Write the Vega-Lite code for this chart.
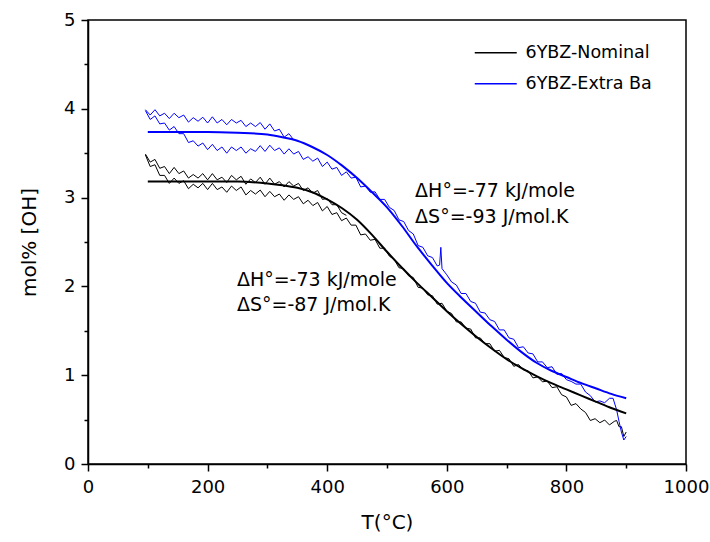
{
 "$schema": "https://vega.github.io/schema/vega-lite/v6.json",
 "width": 598, "height": 444,
 "autosize": {"type": "none"},
 "padding": {"left": 88, "top": 20, "right": 24, "bottom": 78},
 "background": "white",
 "config": {
  "font": "DejaVu Sans",
  "view": {"stroke": "black", "strokeWidth": 1.5},
  "axis": {"domainColor": "black", "domainWidth": 1.5, "tickColor": "black", "tickWidth": 1.5, "labelColor": "black", "titleColor": "black", "labelFont": "DejaVu Sans", "titleFont": "DejaVu Sans", "labelFontSize": 18, "titleFontSize": 20, "titleFontWeight": "normal", "grid": false}
 },
 "datasets": {
  "fit": [
   {"sample":"6YBZ-Nominal","T":100,"OH":3.18},{"sample":"6YBZ-Nominal","T":150,"OH":3.18},{"sample":"6YBZ-Nominal","T":200,"OH":3.18},{"sample":"6YBZ-Nominal","T":250,"OH":3.18},{"sample":"6YBZ-Nominal","T":300,"OH":3.16},{"sample":"6YBZ-Nominal","T":325,"OH":3.14},{"sample":"6YBZ-Nominal","T":350,"OH":3.11},{"sample":"6YBZ-Nominal","T":375,"OH":3.06},{"sample":"6YBZ-Nominal","T":400,"OH":2.98},{"sample":"6YBZ-Nominal","T":425,"OH":2.88},{"sample":"6YBZ-Nominal","T":450,"OH":2.75},{"sample":"6YBZ-Nominal","T":475,"OH":2.58},{"sample":"6YBZ-Nominal","T":500,"OH":2.39},{"sample":"6YBZ-Nominal","T":525,"OH":2.21},{"sample":"6YBZ-Nominal","T":550,"OH":2.04},{"sample":"6YBZ-Nominal","T":575,"OH":1.88},{"sample":"6YBZ-Nominal","T":600,"OH":1.72},{"sample":"6YBZ-Nominal","T":625,"OH":1.57},{"sample":"6YBZ-Nominal","T":650,"OH":1.43},{"sample":"6YBZ-Nominal","T":675,"OH":1.30},{"sample":"6YBZ-Nominal","T":700,"OH":1.18},{"sample":"6YBZ-Nominal","T":725,"OH":1.08},{"sample":"6YBZ-Nominal","T":750,"OH":0.99},{"sample":"6YBZ-Nominal","T":775,"OH":0.91},{"sample":"6YBZ-Nominal","T":800,"OH":0.84},{"sample":"6YBZ-Nominal","T":825,"OH":0.77},{"sample":"6YBZ-Nominal","T":850,"OH":0.70},{"sample":"6YBZ-Nominal","T":875,"OH":0.63},{"sample":"6YBZ-Nominal","T":900,"OH":0.57},
   {"sample":"6YBZ-Extra Ba","T":100,"OH":3.74},{"sample":"6YBZ-Extra Ba","T":150,"OH":3.74},{"sample":"6YBZ-Extra Ba","T":200,"OH":3.74},{"sample":"6YBZ-Extra Ba","T":250,"OH":3.73},{"sample":"6YBZ-Extra Ba","T":300,"OH":3.71},{"sample":"6YBZ-Extra Ba","T":325,"OH":3.68},{"sample":"6YBZ-Extra Ba","T":350,"OH":3.64},{"sample":"6YBZ-Extra Ba","T":375,"OH":3.57},{"sample":"6YBZ-Extra Ba","T":400,"OH":3.48},{"sample":"6YBZ-Extra Ba","T":425,"OH":3.36},{"sample":"6YBZ-Extra Ba","T":450,"OH":3.22},{"sample":"6YBZ-Extra Ba","T":475,"OH":3.06},{"sample":"6YBZ-Extra Ba","T":500,"OH":2.89},{"sample":"6YBZ-Extra Ba","T":525,"OH":2.68},{"sample":"6YBZ-Extra Ba","T":550,"OH":2.45},{"sample":"6YBZ-Extra Ba","T":575,"OH":2.24},{"sample":"6YBZ-Extra Ba","T":600,"OH":2.04},{"sample":"6YBZ-Extra Ba","T":625,"OH":1.87},{"sample":"6YBZ-Extra Ba","T":650,"OH":1.71},{"sample":"6YBZ-Extra Ba","T":675,"OH":1.55},{"sample":"6YBZ-Extra Ba","T":700,"OH":1.40},{"sample":"6YBZ-Extra Ba","T":725,"OH":1.26},{"sample":"6YBZ-Extra Ba","T":750,"OH":1.14},{"sample":"6YBZ-Extra Ba","T":775,"OH":1.05},{"sample":"6YBZ-Extra Ba","T":800,"OH":0.98},{"sample":"6YBZ-Extra Ba","T":825,"OH":0.91},{"sample":"6YBZ-Extra Ba","T":850,"OH":0.85},{"sample":"6YBZ-Extra Ba","T":875,"OH":0.79},{"sample":"6YBZ-Extra Ba","T":900,"OH":0.74}
  ],
  "meas": [
   {"sample":"6YBZ-Nominal","seg":"N1","T":96,"OH":3.48},{"sample":"6YBZ-Nominal","seg":"N1","T":104,"OH":3.35},{"sample":"6YBZ-Nominal","seg":"N1","T":112,"OH":3.37},{"sample":"6YBZ-Nominal","seg":"N1","T":120,"OH":3.25},{"sample":"6YBZ-Nominal","seg":"N1","T":128,"OH":3.25},{"sample":"6YBZ-Nominal","seg":"N1","T":136,"OH":3.16},{"sample":"6YBZ-Nominal","seg":"N1","T":144,"OH":3.22},{"sample":"6YBZ-Nominal","seg":"N1","T":152,"OH":3.16},{"sample":"6YBZ-Nominal","seg":"N1","T":160,"OH":3.19},{"sample":"6YBZ-Nominal","seg":"N1","T":168,"OH":3.10},{"sample":"6YBZ-Nominal","seg":"N1","T":176,"OH":3.15},{"sample":"6YBZ-Nominal","seg":"N1","T":184,"OH":3.11},{"sample":"6YBZ-Nominal","seg":"N1","T":192,"OH":3.16},{"sample":"6YBZ-Nominal","seg":"N1","T":200,"OH":3.09},{"sample":"6YBZ-Nominal","seg":"N1","T":208,"OH":3.16},{"sample":"6YBZ-Nominal","seg":"N1","T":216,"OH":3.09},{"sample":"6YBZ-Nominal","seg":"N1","T":224,"OH":3.12},{"sample":"6YBZ-Nominal","seg":"N1","T":232,"OH":3.06},{"sample":"6YBZ-Nominal","seg":"N1","T":240,"OH":3.13},{"sample":"6YBZ-Nominal","seg":"N1","T":248,"OH":3.08},{"sample":"6YBZ-Nominal","seg":"N1","T":256,"OH":3.12},{"sample":"6YBZ-Nominal","seg":"N1","T":264,"OH":3.03},{"sample":"6YBZ-Nominal","seg":"N1","T":272,"OH":3.08},{"sample":"6YBZ-Nominal","seg":"N1","T":280,"OH":3.04},{"sample":"6YBZ-Nominal","seg":"N1","T":288,"OH":3.085},{"sample":"6YBZ-Nominal","seg":"N1","T":296,"OH":3.01},{"sample":"6YBZ-Nominal","seg":"N1","T":304,"OH":3.07},{"sample":"6YBZ-Nominal","seg":"N1","T":312,"OH":3.01},{"sample":"6YBZ-Nominal","seg":"N1","T":320,"OH":3.04},{"sample":"6YBZ-Nominal","seg":"N1","T":328,"OH":2.97},{"sample":"6YBZ-Nominal","seg":"N1","T":336,"OH":3.03},{"sample":"6YBZ-Nominal","seg":"N1","T":344,"OH":2.98},{"sample":"6YBZ-Nominal","seg":"N1","T":352,"OH":3.01},{"sample":"6YBZ-Nominal","seg":"N1","T":360,"OH":2.93},{"sample":"6YBZ-Nominal","seg":"N1","T":368,"OH":2.97},{"sample":"6YBZ-Nominal","seg":"N1","T":376,"OH":2.91},{"sample":"6YBZ-Nominal","seg":"N1","T":384,"OH":2.945},{"sample":"6YBZ-Nominal","seg":"N1","T":392,"OH":2.85},{"sample":"6YBZ-Nominal","seg":"N1","T":400,"OH":2.90},{"sample":"6YBZ-Nominal","seg":"N1","T":408,"OH":2.81},{"sample":"6YBZ-Nominal","seg":"N1","T":416,"OH":2.83},{"sample":"6YBZ-Nominal","seg":"N1","T":424,"OH":2.74},{"sample":"6YBZ-Nominal","seg":"N1","T":432,"OH":2.77},{"sample":"6YBZ-Nominal","seg":"N1","T":440,"OH":2.69},{"sample":"6YBZ-Nominal","seg":"N1","T":448,"OH":2.69},{"sample":"6YBZ-Nominal","seg":"N1","T":456,"OH":2.58},{"sample":"6YBZ-Nominal","seg":"N1","T":464,"OH":2.59},{"sample":"6YBZ-Nominal","seg":"N1","T":472,"OH":2.52},{"sample":"6YBZ-Nominal","seg":"N1","T":480,"OH":2.53},{"sample":"6YBZ-Nominal","seg":"N1","T":488,"OH":2.43},{"sample":"6YBZ-Nominal","seg":"N1","T":496,"OH":2.43},{"sample":"6YBZ-Nominal","seg":"N1","T":504,"OH":2.34},{"sample":"6YBZ-Nominal","seg":"N1","T":512,"OH":2.305},{"sample":"6YBZ-Nominal","seg":"N1","T":520,"OH":2.21},{"sample":"6YBZ-Nominal","seg":"N1","T":528,"OH":2.20},{"sample":"6YBZ-Nominal","seg":"N1","T":536,"OH":2.12},{"sample":"6YBZ-Nominal","seg":"N1","T":544,"OH":2.10},{"sample":"6YBZ-Nominal","seg":"N1","T":552,"OH":1.99},{"sample":"6YBZ-Nominal","seg":"N1","T":560,"OH":1.98},{"sample":"6YBZ-Nominal","seg":"N1","T":568,"OH":1.905},{"sample":"6YBZ-Nominal","seg":"N1","T":576,"OH":1.895},{"sample":"6YBZ-Nominal","seg":"N1","T":584,"OH":1.80},{"sample":"6YBZ-Nominal","seg":"N1","T":592,"OH":1.81},{"sample":"6YBZ-Nominal","seg":"N1","T":600,"OH":1.72},{"sample":"6YBZ-Nominal","seg":"N1","T":608,"OH":1.695},{"sample":"6YBZ-Nominal","seg":"N1","T":616,"OH":1.60},{"sample":"6YBZ-Nominal","seg":"N1","T":624,"OH":1.60},{"sample":"6YBZ-Nominal","seg":"N1","T":632,"OH":1.53},{"sample":"6YBZ-Nominal","seg":"N1","T":640,"OH":1.52},{"sample":"6YBZ-Nominal","seg":"N1","T":648,"OH":1.42},{"sample":"6YBZ-Nominal","seg":"N1","T":656,"OH":1.42},{"sample":"6YBZ-Nominal","seg":"N1","T":664,"OH":1.355},{"sample":"6YBZ-Nominal","seg":"N1","T":672,"OH":1.355},{"sample":"6YBZ-Nominal","seg":"N1","T":680,"OH":1.27},{"sample":"6YBZ-Nominal","seg":"N1","T":688,"OH":1.28},{"sample":"6YBZ-Nominal","seg":"N1","T":696,"OH":1.20},{"sample":"6YBZ-Nominal","seg":"N1","T":704,"OH":1.185},{"sample":"6YBZ-Nominal","seg":"N1","T":712,"OH":1.10},{"sample":"6YBZ-Nominal","seg":"N1","T":720,"OH":1.12},{"sample":"6YBZ-Nominal","seg":"N1","T":728,"OH":1.06},{"sample":"6YBZ-Nominal","seg":"N1","T":736,"OH":1.05},{"sample":"6YBZ-Nominal","seg":"N1","T":744,"OH":0.97},{"sample":"6YBZ-Nominal","seg":"N1","T":752,"OH":0.98},{"sample":"6YBZ-Nominal","seg":"N1","T":760,"OH":0.925},{"sample":"6YBZ-Nominal","seg":"N1","T":768,"OH":0.935},{"sample":"6YBZ-Nominal","seg":"N1","T":776,"OH":0.86},{"sample":"6YBZ-Nominal","seg":"N1","T":784,"OH":0.87},{"sample":"6YBZ-Nominal","seg":"N1","T":792,"OH":0.78},{"sample":"6YBZ-Nominal","seg":"N1","T":800,"OH":0.755},{"sample":"6YBZ-Nominal","seg":"N1","T":808,"OH":0.66},{"sample":"6YBZ-Nominal","seg":"N1","T":816,"OH":0.68},{"sample":"6YBZ-Nominal","seg":"N1","T":824,"OH":0.62},{"sample":"6YBZ-Nominal","seg":"N1","T":832,"OH":0.58},{"sample":"6YBZ-Nominal","seg":"N1","T":840,"OH":0.49},{"sample":"6YBZ-Nominal","seg":"N1","T":848,"OH":0.51},{"sample":"6YBZ-Nominal","seg":"N1","T":856,"OH":0.465},{"sample":"6YBZ-Nominal","seg":"N1","T":864,"OH":0.495},{"sample":"6YBZ-Nominal","seg":"N1","T":872,"OH":0.44},{"sample":"6YBZ-Nominal","seg":"N1","T":880,"OH":0.48},{"sample":"6YBZ-Nominal","seg":"N1","T":884,"OH":0.49},{"sample":"6YBZ-Nominal","seg":"N1","T":888,"OH":0.42},{"sample":"6YBZ-Nominal","seg":"N1","T":892,"OH":0.42},{"sample":"6YBZ-Nominal","seg":"N1","T":896,"OH":0.31},{"sample":"6YBZ-Nominal","seg":"N1","T":900,"OH":0.36},
   {"sample":"6YBZ-Nominal","seg":"N2","T":96,"OH":3.49},{"sample":"6YBZ-Nominal","seg":"N2","T":104,"OH":3.40},{"sample":"6YBZ-Nominal","seg":"N2","T":112,"OH":3.43},{"sample":"6YBZ-Nominal","seg":"N2","T":120,"OH":3.33},{"sample":"6YBZ-Nominal","seg":"N2","T":128,"OH":3.35},{"sample":"6YBZ-Nominal","seg":"N2","T":136,"OH":3.27},{"sample":"6YBZ-Nominal","seg":"N2","T":144,"OH":3.34},{"sample":"6YBZ-Nominal","seg":"N2","T":152,"OH":3.27},{"sample":"6YBZ-Nominal","seg":"N2","T":160,"OH":3.30},{"sample":"6YBZ-Nominal","seg":"N2","T":168,"OH":3.22},{"sample":"6YBZ-Nominal","seg":"N2","T":176,"OH":3.26},{"sample":"6YBZ-Nominal","seg":"N2","T":184,"OH":3.22},{"sample":"6YBZ-Nominal","seg":"N2","T":192,"OH":3.27},{"sample":"6YBZ-Nominal","seg":"N2","T":200,"OH":3.20},{"sample":"6YBZ-Nominal","seg":"N2","T":208,"OH":3.27},{"sample":"6YBZ-Nominal","seg":"N2","T":216,"OH":3.20},{"sample":"6YBZ-Nominal","seg":"N2","T":224,"OH":3.23},{"sample":"6YBZ-Nominal","seg":"N2","T":232,"OH":3.17},{"sample":"6YBZ-Nominal","seg":"N2","T":240,"OH":3.25},{"sample":"6YBZ-Nominal","seg":"N2","T":248,"OH":3.20},{"sample":"6YBZ-Nominal","seg":"N2","T":256,"OH":3.24},{"sample":"6YBZ-Nominal","seg":"N2","T":264,"OH":3.15},{"sample":"6YBZ-Nominal","seg":"N2","T":272,"OH":3.21},{"sample":"6YBZ-Nominal","seg":"N2","T":280,"OH":3.17},{"sample":"6YBZ-Nominal","seg":"N2","T":288,"OH":3.23},{"sample":"6YBZ-Nominal","seg":"N2","T":296,"OH":3.15},{"sample":"6YBZ-Nominal","seg":"N2","T":304,"OH":3.22},{"sample":"6YBZ-Nominal","seg":"N2","T":312,"OH":3.15},{"sample":"6YBZ-Nominal","seg":"N2","T":320,"OH":3.18},{"sample":"6YBZ-Nominal","seg":"N2","T":328,"OH":3.12},{"sample":"6YBZ-Nominal","seg":"N2","T":336,"OH":3.18},{"sample":"6YBZ-Nominal","seg":"N2","T":344,"OH":3.13},{"sample":"6YBZ-Nominal","seg":"N2","T":352,"OH":3.16},{"sample":"6YBZ-Nominal","seg":"N2","T":360,"OH":3.08},{"sample":"6YBZ-Nominal","seg":"N2","T":368,"OH":3.11},{"sample":"6YBZ-Nominal","seg":"N2","T":376,"OH":3.05},{"sample":"6YBZ-Nominal","seg":"N2","T":384,"OH":3.08},{"sample":"6YBZ-Nominal","seg":"N2","T":392,"OH":2.98},{"sample":"6YBZ-Nominal","seg":"N2","T":400,"OH":2.99},{"sample":"6YBZ-Nominal","seg":"N2","T":408,"OH":2.92},{"sample":"6YBZ-Nominal","seg":"N2","T":416,"OH":2.92},{"sample":"6YBZ-Nominal","seg":"N2","T":424,"OH":2.83},{"sample":"6YBZ-Nominal","seg":"N2","T":432,"OH":2.80},
   {"sample":"6YBZ-Extra Ba","seg":"B1","T":96,"OH":3.98},{"sample":"6YBZ-Extra Ba","seg":"B1","T":104,"OH":3.88},{"sample":"6YBZ-Extra Ba","seg":"B1","T":112,"OH":3.92},{"sample":"6YBZ-Extra Ba","seg":"B1","T":120,"OH":3.83},{"sample":"6YBZ-Extra Ba","seg":"B1","T":128,"OH":3.84},{"sample":"6YBZ-Extra Ba","seg":"B1","T":136,"OH":3.76},{"sample":"6YBZ-Extra Ba","seg":"B1","T":144,"OH":3.80},{"sample":"6YBZ-Extra Ba","seg":"B1","T":152,"OH":3.72},{"sample":"6YBZ-Extra Ba","seg":"B1","T":160,"OH":3.72},{"sample":"6YBZ-Extra Ba","seg":"B1","T":168,"OH":3.62},{"sample":"6YBZ-Extra Ba","seg":"B1","T":176,"OH":3.64},{"sample":"6YBZ-Extra Ba","seg":"B1","T":184,"OH":3.58},{"sample":"6YBZ-Extra Ba","seg":"B1","T":192,"OH":3.615},{"sample":"6YBZ-Extra Ba","seg":"B1","T":200,"OH":3.54},{"sample":"6YBZ-Extra Ba","seg":"B1","T":208,"OH":3.60},{"sample":"6YBZ-Extra Ba","seg":"B1","T":216,"OH":3.53},{"sample":"6YBZ-Extra Ba","seg":"B1","T":224,"OH":3.57},{"sample":"6YBZ-Extra Ba","seg":"B1","T":232,"OH":3.50},{"sample":"6YBZ-Extra Ba","seg":"B1","T":240,"OH":3.57},{"sample":"6YBZ-Extra Ba","seg":"B1","T":248,"OH":3.53},{"sample":"6YBZ-Extra Ba","seg":"B1","T":256,"OH":3.57},{"sample":"6YBZ-Extra Ba","seg":"B1","T":264,"OH":3.50},{"sample":"6YBZ-Extra Ba","seg":"B1","T":272,"OH":3.55},{"sample":"6YBZ-Extra Ba","seg":"B1","T":280,"OH":3.52},{"sample":"6YBZ-Extra Ba","seg":"B1","T":288,"OH":3.585},{"sample":"6YBZ-Extra Ba","seg":"B1","T":296,"OH":3.52},{"sample":"6YBZ-Extra Ba","seg":"B1","T":304,"OH":3.59},{"sample":"6YBZ-Extra Ba","seg":"B1","T":312,"OH":3.53},{"sample":"6YBZ-Extra Ba","seg":"B1","T":320,"OH":3.56},{"sample":"6YBZ-Extra Ba","seg":"B1","T":328,"OH":3.49},{"sample":"6YBZ-Extra Ba","seg":"B1","T":336,"OH":3.55},{"sample":"6YBZ-Extra Ba","seg":"B1","T":344,"OH":3.49},{"sample":"6YBZ-Extra Ba","seg":"B1","T":352,"OH":3.52},{"sample":"6YBZ-Extra Ba","seg":"B1","T":360,"OH":3.43},{"sample":"6YBZ-Extra Ba","seg":"B1","T":368,"OH":3.46},{"sample":"6YBZ-Extra Ba","seg":"B1","T":376,"OH":3.41},{"sample":"6YBZ-Extra Ba","seg":"B1","T":384,"OH":3.445},{"sample":"6YBZ-Extra Ba","seg":"B1","T":392,"OH":3.35},{"sample":"6YBZ-Extra Ba","seg":"B1","T":400,"OH":3.40},{"sample":"6YBZ-Extra Ba","seg":"B1","T":408,"OH":3.32},{"sample":"6YBZ-Extra Ba","seg":"B1","T":416,"OH":3.34},{"sample":"6YBZ-Extra Ba","seg":"B1","T":424,"OH":3.25},{"sample":"6YBZ-Extra Ba","seg":"B1","T":432,"OH":3.29},{"sample":"6YBZ-Extra Ba","seg":"B1","T":440,"OH":3.22},{"sample":"6YBZ-Extra Ba","seg":"B1","T":448,"OH":3.23},{"sample":"6YBZ-Extra Ba","seg":"B1","T":456,"OH":3.12},{"sample":"6YBZ-Extra Ba","seg":"B1","T":464,"OH":3.13},{"sample":"6YBZ-Extra Ba","seg":"B1","T":472,"OH":3.06},{"sample":"6YBZ-Extra Ba","seg":"B1","T":480,"OH":3.065},{"sample":"6YBZ-Extra Ba","seg":"B1","T":488,"OH":2.98},{"sample":"6YBZ-Extra Ba","seg":"B1","T":496,"OH":2.98},{"sample":"6YBZ-Extra Ba","seg":"B1","T":504,"OH":2.89},{"sample":"6YBZ-Extra Ba","seg":"B1","T":512,"OH":2.855},{"sample":"6YBZ-Extra Ba","seg":"B1","T":520,"OH":2.75},{"sample":"6YBZ-Extra Ba","seg":"B1","T":528,"OH":2.73},{"sample":"6YBZ-Extra Ba","seg":"B1","T":536,"OH":2.63},{"sample":"6YBZ-Extra Ba","seg":"B1","T":544,"OH":2.59},{"sample":"6YBZ-Extra Ba","seg":"B1","T":552,"OH":2.46},{"sample":"6YBZ-Extra Ba","seg":"B1","T":560,"OH":2.44},{"sample":"6YBZ-Extra Ba","seg":"B1","T":568,"OH":2.345},{"sample":"6YBZ-Extra Ba","seg":"B1","T":576,"OH":2.325},{"sample":"6YBZ-Extra Ba","seg":"B1","T":584,"OH":2.23},{"sample":"6YBZ-Extra Ba","seg":"B1","T":588,"OH":2.24},{"sample":"6YBZ-Extra Ba","seg":"B1","T":590,"OH":2.44},{"sample":"6YBZ-Extra Ba","seg":"B1","T":592,"OH":2.20},{"sample":"6YBZ-Extra Ba","seg":"B1","T":600,"OH":2.13},{"sample":"6YBZ-Extra Ba","seg":"B1","T":608,"OH":2.05},{"sample":"6YBZ-Extra Ba","seg":"B1","T":616,"OH":2.015},{"sample":"6YBZ-Extra Ba","seg":"B1","T":624,"OH":1.92},{"sample":"6YBZ-Extra Ba","seg":"B1","T":632,"OH":1.92},{"sample":"6YBZ-Extra Ba","seg":"B1","T":640,"OH":1.83},{"sample":"6YBZ-Extra Ba","seg":"B1","T":648,"OH":1.81},{"sample":"6YBZ-Extra Ba","seg":"B1","T":656,"OH":1.71},{"sample":"6YBZ-Extra Ba","seg":"B1","T":664,"OH":1.70},{"sample":"6YBZ-Extra Ba","seg":"B1","T":672,"OH":1.625},{"sample":"6YBZ-Extra Ba","seg":"B1","T":680,"OH":1.605},{"sample":"6YBZ-Extra Ba","seg":"B1","T":688,"OH":1.51},{"sample":"6YBZ-Extra Ba","seg":"B1","T":696,"OH":1.51},{"sample":"6YBZ-Extra Ba","seg":"B1","T":704,"OH":1.42},{"sample":"6YBZ-Extra Ba","seg":"B1","T":712,"OH":1.405},{"sample":"6YBZ-Extra Ba","seg":"B1","T":720,"OH":1.31},{"sample":"6YBZ-Extra Ba","seg":"B1","T":728,"OH":1.32},{"sample":"6YBZ-Extra Ba","seg":"B1","T":736,"OH":1.25},{"sample":"6YBZ-Extra Ba","seg":"B1","T":744,"OH":1.24},{"sample":"6YBZ-Extra Ba","seg":"B1","T":752,"OH":1.15},{"sample":"6YBZ-Extra Ba","seg":"B1","T":760,"OH":1.15},{"sample":"6YBZ-Extra Ba","seg":"B1","T":768,"OH":1.085},{"sample":"6YBZ-Extra Ba","seg":"B1","T":776,"OH":1.095},{"sample":"6YBZ-Extra Ba","seg":"B1","T":784,"OH":1.01},{"sample":"6YBZ-Extra Ba","seg":"B1","T":792,"OH":1.02},{"sample":"6YBZ-Extra Ba","seg":"B1","T":800,"OH":0.95},{"sample":"6YBZ-Extra Ba","seg":"B1","T":808,"OH":0.93},{"sample":"6YBZ-Extra Ba","seg":"B1","T":816,"OH":0.90},{"sample":"6YBZ-Extra Ba","seg":"B1","T":824,"OH":0.90},{"sample":"6YBZ-Extra Ba","seg":"B1","T":832,"OH":0.81},{"sample":"6YBZ-Extra Ba","seg":"B1","T":840,"OH":0.77},{"sample":"6YBZ-Extra Ba","seg":"B1","T":848,"OH":0.70},{"sample":"6YBZ-Extra Ba","seg":"B1","T":856,"OH":0.71},{"sample":"6YBZ-Extra Ba","seg":"B1","T":864,"OH":0.69},{"sample":"6YBZ-Extra Ba","seg":"B1","T":872,"OH":0.74},{"sample":"6YBZ-Extra Ba","seg":"B1","T":878,"OH":0.74},{"sample":"6YBZ-Extra Ba","seg":"B1","T":884,"OH":0.61},{"sample":"6YBZ-Extra Ba","seg":"B1","T":888,"OH":0.48},{"sample":"6YBZ-Extra Ba","seg":"B1","T":892,"OH":0.36},{"sample":"6YBZ-Extra Ba","seg":"B1","T":896,"OH":0.27},{"sample":"6YBZ-Extra Ba","seg":"B1","T":900,"OH":0.31},
   {"sample":"6YBZ-Extra Ba","seg":"B2","T":96,"OH":3.99},{"sample":"6YBZ-Extra Ba","seg":"B2","T":104,"OH":3.93},{"sample":"6YBZ-Extra Ba","seg":"B2","T":112,"OH":3.99},{"sample":"6YBZ-Extra Ba","seg":"B2","T":120,"OH":3.92},{"sample":"6YBZ-Extra Ba","seg":"B2","T":128,"OH":3.95},{"sample":"6YBZ-Extra Ba","seg":"B2","T":136,"OH":3.89},{"sample":"6YBZ-Extra Ba","seg":"B2","T":144,"OH":3.95},{"sample":"6YBZ-Extra Ba","seg":"B2","T":152,"OH":3.90},{"sample":"6YBZ-Extra Ba","seg":"B2","T":160,"OH":3.93},{"sample":"6YBZ-Extra Ba","seg":"B2","T":168,"OH":3.85},{"sample":"6YBZ-Extra Ba","seg":"B2","T":176,"OH":3.90},{"sample":"6YBZ-Extra Ba","seg":"B2","T":184,"OH":3.86},{"sample":"6YBZ-Extra Ba","seg":"B2","T":192,"OH":3.905},{"sample":"6YBZ-Extra Ba","seg":"B2","T":200,"OH":3.84},{"sample":"6YBZ-Extra Ba","seg":"B2","T":208,"OH":3.91},{"sample":"6YBZ-Extra Ba","seg":"B2","T":216,"OH":3.84},{"sample":"6YBZ-Extra Ba","seg":"B2","T":224,"OH":3.88},{"sample":"6YBZ-Extra Ba","seg":"B2","T":232,"OH":3.82},{"sample":"6YBZ-Extra Ba","seg":"B2","T":240,"OH":3.88},{"sample":"6YBZ-Extra Ba","seg":"B2","T":248,"OH":3.84},{"sample":"6YBZ-Extra Ba","seg":"B2","T":256,"OH":3.87},{"sample":"6YBZ-Extra Ba","seg":"B2","T":264,"OH":3.80},{"sample":"6YBZ-Extra Ba","seg":"B2","T":272,"OH":3.84},{"sample":"6YBZ-Extra Ba","seg":"B2","T":280,"OH":3.80},{"sample":"6YBZ-Extra Ba","seg":"B2","T":288,"OH":3.845},{"sample":"6YBZ-Extra Ba","seg":"B2","T":296,"OH":3.77},{"sample":"6YBZ-Extra Ba","seg":"B2","T":304,"OH":3.83},{"sample":"6YBZ-Extra Ba","seg":"B2","T":312,"OH":3.75},{"sample":"6YBZ-Extra Ba","seg":"B2","T":320,"OH":3.77},{"sample":"6YBZ-Extra Ba","seg":"B2","T":328,"OH":3.68},{"sample":"6YBZ-Extra Ba","seg":"B2","T":336,"OH":3.72},{"sample":"6YBZ-Extra Ba","seg":"B2","T":344,"OH":3.65}
  ],
  "notes": [
   {"T":547,"OH":3.01,"label":"ΔH°=-77 kJ/mole"},
   {"T":547,"OH":2.71,"label":"ΔS°=-93 J/mol.K"},
   {"T":249,"OH":2.00,"label":"ΔH°=-73 kJ/mole"},
   {"T":249,"OH":1.72,"label":"ΔS°=-87 J/mol.K"}
  ]
 },
 "layer": [
  {
   "data": {"name": "meas"},
   "mark": {"type": "line", "strokeWidth": 1},
   "encoding": {
    "x": {"field": "T", "type": "quantitative", "scale": {"domain": [0, 1000], "nice": false},
          "axis": {"orient": "bottom", "values": [100, 300, 500, 700, 900], "tickSize": 4, "labels": false, "domain": false, "title": null}},
    "y": {"field": "OH", "type": "quantitative", "scale": {"domain": [0, 5], "nice": false},
          "axis": {"orient": "left", "values": [0.5, 1.5, 2.5, 3.5, 4.5], "tickSize": 4, "labels": false, "domain": false, "title": null}},
    "color": {"field": "sample", "type": "nominal",
              "scale": {"domain": ["6YBZ-Nominal", "6YBZ-Extra Ba"], "range": ["#000000", "#0000ff"]},
              "legend": {"orient": "none", "legendX": 399, "legendY": 24, "title": null, "symbolType": "M-3,0H3", "symbolSize": 196, "symbolStrokeWidth": 1.5, "labelFontSize": 17.5, "labelFont": "DejaVu Sans", "labelColor": "black", "labelOffset": 21, "rowPadding": 12, "padding": 0}},
    "detail": {"field": "seg"}
   }
  },
  {
   "data": {"name": "fit"},
   "mark": {"type": "line", "strokeWidth": 2, "interpolate": "monotone"},
   "encoding": {
    "x": {"field": "T", "type": "quantitative",
          "axis": {"orient": "bottom", "values": [0, 200, 400, 600, 800, 1000], "format": "d", "tickSize": 7, "labelPadding": 7, "title": "T(°C)", "titlePadding": 16, "labelFlush": false, "labelOverlap": false}},
    "y": {"field": "OH", "type": "quantitative",
          "axis": {"orient": "left", "values": [0, 1, 2, 3, 4, 5], "format": "d", "tickSize": 7, "labelPadding": 6, "title": "mol% [OH]", "titlePadding": 24, "labelFlush": false, "labelOverlap": false}},
    "color": {"field": "sample", "type": "nominal"}
   }
  },
  {
   "data": {"name": "notes"},
   "mark": {"type": "text", "align": "left", "baseline": "alphabetic", "fontSize": 19, "font": "DejaVu Sans", "color": "black"},
   "encoding": {
    "x": {"field": "T", "type": "quantitative", "axis": null},
    "y": {"field": "OH", "type": "quantitative", "axis": null},
    "text": {"field": "label"}
   }
  }
 ],
 "resolve": {"axis": {"x": "independent", "y": "independent"}}
}
